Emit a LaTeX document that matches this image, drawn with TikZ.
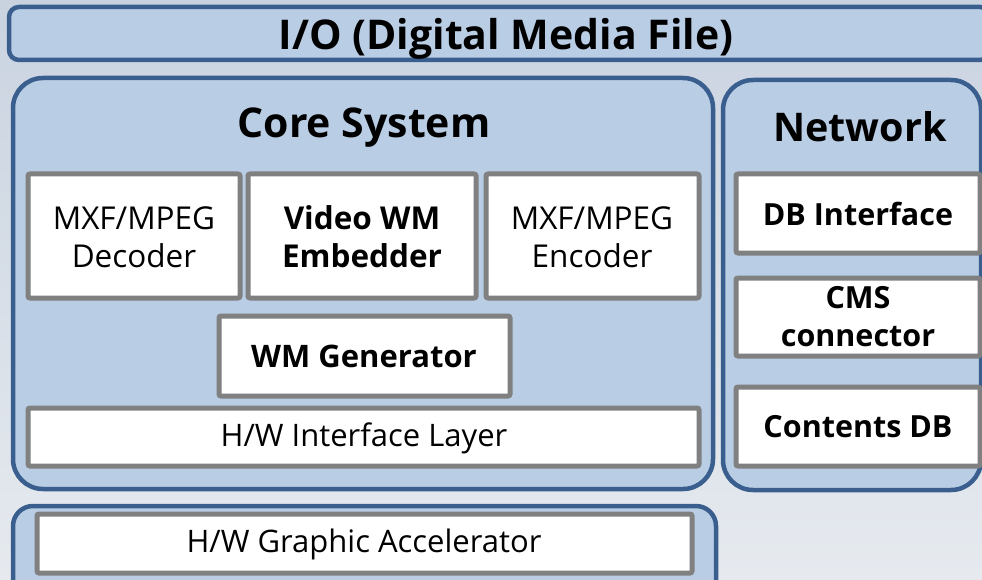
\documentclass[tikz,border=0pt]{standalone}
\usepackage{fontspec}
\setmainfont{Open Sans}
\definecolor{panelfill}{HTML}{B9CDE5}
\definecolor{panelline}{HTML}{3A5F8E}
\definecolor{boxline}{HTML}{808080}
\definecolor{bgtop}{HTML}{C9D3E0}
\definecolor{bgbot}{HTML}{E6EAEF}
\tikzset{
  panel/.style={draw=panelline, fill=panelfill, line width=4.5pt},
  wbox/.style={draw=boxline, fill=white, line width=5pt, rounded corners=2pt},
  lbl/.style={align=center, inner sep=0pt, text=black},
}
\begin{document}
\begin{tikzpicture}[x=1pt,y=-1pt]
\useasboundingbox (0,0) rectangle (982,580);
\clip (0,0) rectangle (982,580);
\shade[top color=bgtop, bottom color=bgbot] (0,0) rectangle (982,580);
% panels
\draw[panel, rounded corners=10pt] (9,7) rectangle (990,60);
\node[lbl, anchor=base, font=\bfseries\fontsize{41}{46}\selectfont] (io) at (506,50) {I/O (Digital Media File)};
\draw[panel, rounded corners=30pt] (13,78) rectangle (713,489);
\node[lbl, anchor=base, font=\bfseries\fontsize{41}{46}\selectfont] (core) at (364,138) {Core System};
\draw[panel, rounded corners=30pt] (723,80) rectangle (981,490);
\node[lbl, anchor=base, font=\bfseries\fontsize{39.5}{46}\selectfont] (net) at (860,142) {Network};
\draw[panel, rounded corners=20pt] (13,506) rectangle (716,600);
% core boxes
\draw[wbox] (28,174) rectangle (240,298);
\node[lbl, font=\fontsize{31.5}{38}\selectfont] (dec) at (134,237) {MXF/MPEG\\Decoder};
\draw[wbox] (248,174) rectangle (476,298);
\node[lbl, font=\bfseries\fontsize{31.5}{38}\selectfont] (emb) at (362,237) {Video WM\\Embedder};
\draw[wbox] (486,174) rectangle (699,298);
\node[lbl, font=\fontsize{31.5}{38}\selectfont] (enc) at (592,237) {MXF/MPEG\\Encoder};
\draw[wbox] (219,316) rectangle (510,396);
\node[lbl, font=\bfseries\fontsize{31}{36}\selectfont] (gen) at (364,356) {WM Generator};
\draw[wbox] (28,408) rectangle (699,466);
\node[lbl, font=\fontsize{31}{36}\selectfont] (hwi) at (364,438) {H/W Interface Layer};
% network boxes
\draw[wbox] (736,174) rectangle (980,253);
\node[lbl, font=\bfseries\fontsize{30.5}{36}\selectfont] (dbi) at (858,214) {DB Interface};
\draw[wbox] (736,278) rectangle (980,356);
\node[lbl, font=\bfseries\fontsize{30.5}{38}\selectfont] (cms) at (858,317) {CMS\\connector};
\draw[wbox] (736,387) rectangle (980,466);
\node[lbl, font=\bfseries\fontsize{30.5}{36}\selectfont] (cdb) at (858,427) {Contents DB};
% bottom
\draw[wbox] (37,514) rectangle (692,573);
\node[lbl, font=\fontsize{31}{36}\selectfont] (gpu) at (364,544) {H/W Graphic Accelerator};
\end{tikzpicture}
\end{document}
